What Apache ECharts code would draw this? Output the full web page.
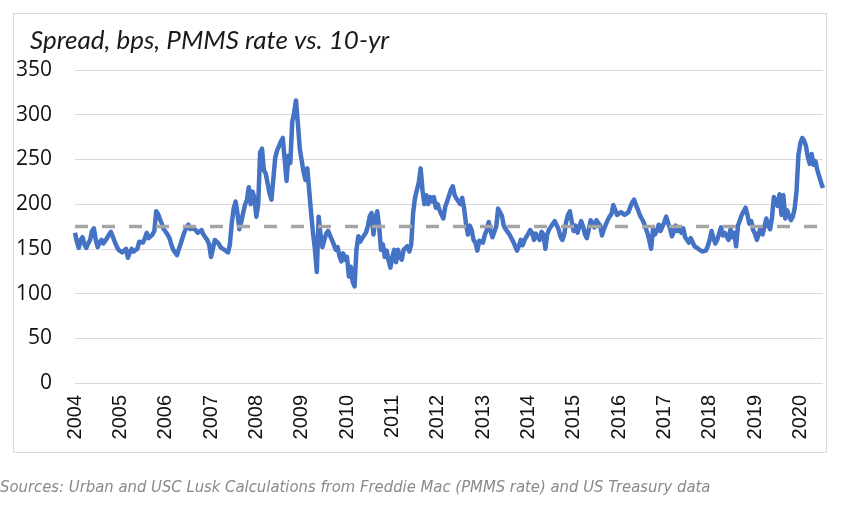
<!DOCTYPE html>
<html>
<head>
<meta charset="utf-8">
<script src="https://cdn.jsdelivr.net/npm/echarts@6/dist/echarts.min.js"></script>
<style>
html,body{margin:0;padding:0;background:#fff;}
#chart{width:850px;height:508px;}
</style>
</head>
<body>
<div id="chart"></div>
<script>
// Semi-monthly spread readings (bps), 24 per year, starting Jan of each year
const v2004 = [168,158,151,160,163,155,151,156,160,170,173,160,152,157,160,156,155,162,166,169,164,158,153,149];
const v2005 = [150,146,145,150,140,146,150,147,145,150,158,160,157,162,168,162,163,166,170,192,189,183,178,172];
const v2006 = [172,166,162,155,149,146,143,150,156,163,169,174,177,172,170,173,171,168,170,171,166,163,160,155];
const v2007 = [141,150,160,162,156,152,150,149,147,146,155,179,195,203,190,172,180,190,199,205,219,200,214,207];
const v2008 = [186,200,258,262,238,234,236,212,205,228,252,260,265,270,274,250,226,254,246,292,302,316,290,262];
const v2009 = [249,236,227,240,215,190,168,150,124,186,165,152,160,167,170,168,160,155,149,152,142,136,145,138];
const v2010 = [141,119,130,113,108,149,164,158,162,165,168,175,186,190,166,183,192,175,149,155,141,148,137,129];
const v2011 = [141,149,135,149,141,138,149,147,153,147,155,190,207,216,224,240,215,200,210,200,208,203,208,196];
const v2012 = [200,193,195,184,197,203,205,216,220,210,206,205,200,207,195,178,166,176,171,160,157,148,159,161];
const v2013 = [157,166,171,180,170,163,161,175,195,197,187,176,172,169,166,164,158,160,148,153,160,154,160,158];
const v2014 = [167,171,168,160,167,163,160,169,166,150,166,172,175,177,181,182,172,164,160,166,180,188,192,180];
const v2015 = [170,176,168,175,181,175,166,162,172,182,181,174,182,184,176,165,172,173,182,186,189,199,201,188];
const v2016 = [190,191,193,188,186,191,197,202,205,199,194,188,184,180,174,168,160,150,172,166,170,177,170,175];
const v2017 = [180,186,179,173,164,169,176,170,173,168,173,163,160,157,162,160,153,155,150,149,147,145,148,153];
const v2018 = [160,170,162,156,160,162,174,165,168,166,160,172,163,168,153,176,182,188,186,196,188,178,181,171];
const v2019 = [167,160,167,174,166,175,184,176,172,185,208,203,198,211,188,210,184,193,187,182,186,195,215,255];
const v2020 = [268,274,271,265,252,245,256,244,248,238,236,224,218];

const startYear = 2004;
const perYear = 24;
const endYear = 2020.5;
const averageSpread = 175;
const yearTicks = ['2004','2005','2006','2007','2008','2009','2010','2011','2012','2013','2014','2015','2016','2017','2018','2019','2020'];
const yTicks = [0,50,100,150,200,250,300,350];

const allValues = [].concat(v2004,v2005,v2006,v2007,v2008,v2009,v2010,v2011,v2012,v2013,v2014,v2015,v2016,v2017,v2018,v2019,v2020);
const spreadData = allValues.map((v,i) => [startYear + i / perYear, v]);
const avgData = [[startYear, averageSpread],[endYear, averageSpread]];

const chart = echarts.init(document.getElementById('chart'), null, {renderer:'canvas'});
chart.setOption({
  animation:false,
  backgroundColor:'#ffffff',
  grid:{left:75,right:27,top:70,bottom:125,containLabel:false},
  title:{
    text:'Spread, bps, PMMS rate vs. 10-yr',
    left:25, top:23,
    textStyle:{fontFamily:'Lato',fontStyle:'italic',fontWeight:'normal',fontSize:26,color:'#1a1a1a'}
  },
  xAxis:{
    type:'value', min:startYear, max:endYear, interval:1,
    axisLine:{show:false}, axisTick:{show:false}, splitLine:{show:false},
    axisLabel:{
      rotate:90, margin:12, fontSize:20, fontFamily:'Liberation Sans', color:'#111',
      showMaxLabel:false,
      formatter:function(v){ const i = yearTicks.indexOf(String(Math.round(v))); return (Math.abs(v-Math.round(v))<1e-6 && i>=0) ? yearTicks[i] : ''; }
    }
  },
  yAxis:{
    type:'value', min:yTicks[0], max:yTicks[yTicks.length-1], interval:50,
    axisLine:{show:false}, axisTick:{show:false},
    splitLine:{lineStyle:{color:'#d9d9d9',width:1}},
    axisLabel:{margin:23, fontSize:21, fontFamily:'Open Sans', color:'#111'}
  },
  series:[
    {type:'line', data:spreadData, showSymbol:false, symbol:'none',
     lineStyle:{color:'#4472c4',width:4.5,join:'round'}, itemStyle:{color:'#4472c4'}, z:2},
    {type:'line', data:avgData, showSymbol:false, symbol:'none',
     lineStyle:{color:'#a5a5a5',width:3.5,type:[13,14]}, z:3}
  ],
  graphic:[
    {type:'rect', shape:{x:13.5,y:13.5,width:813,height:439}, style:{fill:null,stroke:'#d9d9d9',lineWidth:1}, silent:true},
    {type:'text', left:0, top:479, style:{text:'Sources: Urban and USC Lusk Calculations from Freddie Mac (PMMS rate) and US Treasury data', fontFamily:'Liberation Sans Narrow, DejaVu Sans Condensed, Liberation Sans', fontStyle:'italic', fontSize:16.5, fill:'#8a8a8a'}}
  ]
});
</script>
</body>
</html>
